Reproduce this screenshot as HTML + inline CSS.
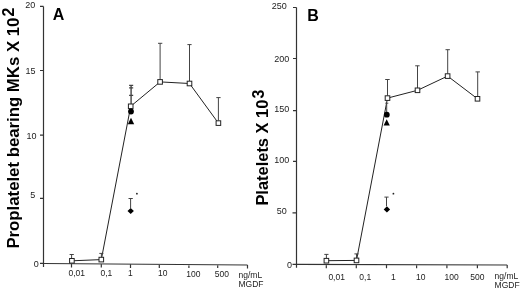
<!DOCTYPE html>
<html><head><meta charset="utf-8">
<style>
html,body{margin:0;padding:0;background:#fff;}
body{width:520px;height:289px;overflow:hidden;}
svg{display:block;filter:grayscale(1);}
text{font-family:"Liberation Sans",sans-serif;fill:#222;}
.t{font-size:9px;}
.x{font-size:8.5px;}
.ax{stroke:#333;stroke-width:1.2;fill:none;}
.ln{stroke:#222;stroke-width:1;fill:none;}
.eb{stroke:#444;stroke-width:1;fill:none;}
.sq{stroke:#222;stroke-width:1;fill:#fff;}
.big{font-size:16px;font-weight:bold;fill:#000;}
.yl{font-size:16px;font-weight:bold;fill:#000;}
</style></head>
<body>
<svg width="520" height="289" viewBox="0 0 520 289">
<!-- ================= Chart A ================= -->
<!-- y axis -->
<path class="ax" d="M43.5 6.4V267 M40 6.4H43.5 M40 70.5H43.5 M40 135.1H43.5 M40 198.3H43.5 M40 263.4H43.5"/>
<!-- x axis -->
<path class="ax" d="M43.5 263.5L247.5 265 M71.5 263.7V267.5 M101.3 263.9V267.5 M130.5 264.1V268 M159.3 264.3V268 M188.9 264.5V268 M217.7 264.7V268 M247.5 265V268.5"/>
<!-- y tick labels -->
<text class="t" x="35.2" y="8" text-anchor="end">20</text>
<text class="t" x="35.4" y="74" text-anchor="end">15</text>
<text class="t" x="36.6" y="138.6" text-anchor="end">10</text>
<text class="t" x="35.3" y="198.1" text-anchor="end">5</text>
<text class="t" x="38.8" y="266.5" text-anchor="end">0</text>
<!-- x tick labels -->
<text class="x" x="68.5" y="276.2">0,01</text>
<text class="x" x="100.5" y="276.2">0,1</text>
<text class="x" x="128" y="276.4">1</text>
<text class="x" x="158" y="276.4">10</text>
<text class="x" x="186.3" y="276.5">100</text>
<text class="x" x="214.8" y="276.5">500</text>
<text class="x" x="238.5" y="277.9">ng/mL</text>
<text class="x" x="238.5" y="287.2">MGDF</text>
<!-- panel letter -->
<text class="big" x="52.8" y="19.7">A</text>
<!-- y label -->
<text class="yl" transform="translate(18.6,248.6) rotate(-90)" x="0" y="0" textLength="231" lengthAdjust="spacingAndGlyphs">Proplatelet bearing MKs X 10</text>
<text class="yl" transform="translate(14.2,16.5) rotate(-90)" x="0" y="0">2</text>
<!-- data A -->
<path class="ln" d="M71.9 260.8L101.3 259.6L130.7 106.3L160.1 81.9L189.5 83.5L218.4 123.1"/>
<path class="eb" d="M71.6 258.3V254.5 M69.6 254.5H73.8 M101.4 257.1V253.4 M99.3 253.4H103.4
 M160.1 79.4V43.3 M158 43.3H162.3 M189.5 81V44.6 M187.4 44.6H191.6 M218.4 120.6V97.6 M216.3 97.6H220.6
 M130.6 208V198.5 M128.5 198.5H132.8"/>
<path class="eb" style="stroke-width:1.4" d="M131.1 104V85.3"/>
<path class="eb" style="stroke-width:1.2" d="M129.1 85.4H133.2 M129.1 87.9H133.2 M129.1 95.4H133.2"/>
<g class="sq">
<rect x="69.6" y="258.5" width="4.6" height="4.6"/>
<rect x="99" y="257.3" width="4.6" height="4.6"/>
<rect x="128.4" y="104" width="4.6" height="4.6"/>
<rect x="157.8" y="79.6" width="4.6" height="4.6"/>
<rect x="187.2" y="81.2" width="4.6" height="4.6"/>
<rect x="216.1" y="120.8" width="4.6" height="4.6"/>
</g>
<circle cx="131" cy="111.5" r="2.9" fill="#000"/>
<path d="M131 117.8L134.2 124.2H127.8Z" fill="#000"/>
<path d="M130.7 208L133.9 211L130.7 214L127.5 211Z" fill="#000"/>
<circle cx="136.9" cy="193.7" r="0.9" fill="#222"/>

<!-- ================= Chart B ================= -->
<path class="ax" d="M296.5 7.4V267.7 M293 7.5H296.5 M293 58.5H296.5 M293 110.6H296.5 M293 161.4H296.5 M292.5 212.9H296.5 M292.5 264.3H296.5"/>
<path class="ax" d="M296.5 264.3L507.2 265 M326.3 264.4V268.3 M356.3 264.5V268.3 M386.5 264.6V268.3 M416.6 264.7V268.3 M446.9 264.8V268.3 M477.4 264.9V268.3 M507.2 265V268.3"/>
<text class="t" x="286.8" y="8.7" text-anchor="end">250</text>
<text class="t" x="289.2" y="62" text-anchor="end">200</text>
<text class="t" x="289.2" y="112.3" text-anchor="end">150</text>
<text class="t" x="289.2" y="163.1" text-anchor="end">100</text>
<text class="t" x="286.8" y="214.4" text-anchor="end">50</text>
<text class="t" x="291.9" y="267.9" text-anchor="end">0</text>
<text class="x" x="328.4" y="279.6">0,01</text>
<text class="x" x="359.3" y="279.6">0,1</text>
<text class="x" x="391" y="279.6">1</text>
<text class="x" x="416" y="279.6">10</text>
<text class="x" x="444.6" y="279.6">100</text>
<text class="x" x="470.2" y="279.6">500</text>
<text class="x" x="494.6" y="279">ng/mL</text>
<text class="x" x="494.6" y="287.6">MGDF</text>
<text class="big" x="307.3" y="20.7">B</text>
<text class="yl" transform="translate(268.2,205.6) rotate(-90)" x="0" y="0" textLength="106" lengthAdjust="spacingAndGlyphs">Platelets X 10</text>
<text class="yl" transform="translate(264.2,98.6) rotate(-90)" x="0" y="0">3</text>
<!-- data B -->
<path class="ln" d="M326.4 260.7L356.5 260.4L387.5 98.1L417.5 90.3L447.6 76.1L477.5 98.8"/>
<path class="eb" d="M326.4 258.3V254.4 M324.3 254.4H328.5 M356.5 258V253.9 M354.4 253.9H358.6
 M387.5 95.8V79.5 M385.2 79.5H389.7 M386.7 112.3V103.2 M385.3 103.2H388.3
 M417.5 88V65.8 M415.2 65.8H419.6 M447.7 73.8V49.7 M445.5 49.7H449.9 M477.7 96.5V71.9 M475.5 71.9H479.9
 M386.5 206.2V197.1 M384.4 197.1H388.6"/>
<g class="sq">
<rect x="324.1" y="258.4" width="4.6" height="4.6"/>
<rect x="354.2" y="258.1" width="4.6" height="4.6"/>
<rect x="385.2" y="95.8" width="4.6" height="4.6"/>
<rect x="415.2" y="88" width="4.6" height="4.6"/>
<rect x="445.3" y="73.8" width="4.6" height="4.6"/>
<rect x="475.2" y="96.5" width="4.6" height="4.6"/>
</g>
<circle cx="386.8" cy="114.7" r="2.9" fill="#000"/>
<path d="M386.7 119.3L389.8 125.6H383.6Z" fill="#000"/>
<path d="M386.9 206.2L390.1 209.4L386.9 212.6L383.7 209.4Z" fill="#000"/>
<circle cx="393.4" cy="193.7" r="0.9" fill="#222"/>
</svg>
</body></html>
